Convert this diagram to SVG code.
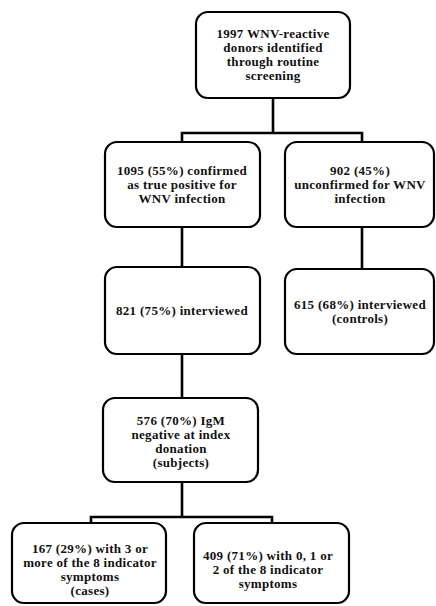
<svg xmlns="http://www.w3.org/2000/svg" width="436" height="606" viewBox="0 0 436 606">
  <style>
    .box { fill: #ffffff; stroke: #000000; stroke-width: 2.2; }
    .wire { fill: none; stroke: #000000; stroke-width: 2.6; stroke-linecap: square; }
    text { font-family: "Liberation Serif", "Times New Roman", serif; font-size: 13px; font-weight: bold; letter-spacing: 0.3px; fill: #111111; text-anchor: middle; }
  </style>
  <rect width="436" height="606" fill="#ffffff"/>

  <!-- connectors -->
  <g id="connectors">
    <path class="wire" d="M273,98 V133 M182,133 H362 M182,133 V142 M362,133 V142"/>
    <path class="wire" d="M182,227 V267 M362,227 V269"/>
    <path class="wire" d="M182,354 V398"/>
    <path class="wire" d="M182,482 V517 M91,517 H272 M91,517 V523 M272,517 V523"/>
  </g>

  <!-- screening -->
  <g id="screened">
    <rect class="box" x="196" y="12" width="154" height="86" rx="12"/>
    <text x="273" y="38">1997 WNV-reactive</text>
    <text x="273" y="52">donors identified</text>
    <text x="273" y="66">through routine</text>
    <text x="273" y="80">screening</text>
  </g>

  <g id="confirmed">
    <rect class="box" x="105" y="142" width="155" height="85" rx="12"/>
    <text x="182" y="175">1095 (55%) confirmed</text>
    <text x="182" y="189">as true positive for</text>
    <text x="182" y="203">WNV infection</text>
  </g>

  <g id="unconfirmed">
    <rect class="box" x="285" y="142" width="149" height="85" rx="12"/>
    <text x="360" y="175">902 (45%)</text>
    <text x="360" y="189">unconfirmed for WNV</text>
    <text x="360" y="203">infection</text>
  </g>

  <g id="interviewed">
    <rect class="box" x="105" y="267" width="155" height="87" rx="12"/>
    <text x="182" y="315">821 (75%) interviewed</text>
  </g>

  <g id="controls">
    <rect class="box" x="285" y="269" width="149" height="85" rx="12"/>
    <text x="360" y="309">615 (68%) interviewed</text>
    <text x="360" y="323">(controls)</text>
  </g>

  <g id="subjects">
    <rect class="box" x="103" y="398" width="155" height="84" rx="12"/>
    <text x="181" y="424.5">576 (70%) IgM</text>
    <text x="181" y="438.5">negative at index</text>
    <text x="181" y="452.5">donation</text>
    <text x="181" y="466.5">(subjects)</text>
  </g>

  <g id="cases">
    <rect class="box" x="12" y="523" width="154" height="80" rx="12"/>
    <text x="90" y="552.5">167 (29%) with 3 or</text>
    <text x="90" y="566.5">more of the 8 indicator</text>
    <text x="90" y="580.5">symptoms</text>
    <text x="90" y="594.5">(cases)</text>
  </g>

  <g id="noncases">
    <rect class="box" x="194" y="523" width="155" height="80" rx="12"/>
    <text x="268" y="559.5">409 (71%) with 0, 1 or</text>
    <text x="268" y="573.5">2 of the 8 indicator</text>
    <text x="268" y="587.5">symptoms</text>
  </g>
</svg>
